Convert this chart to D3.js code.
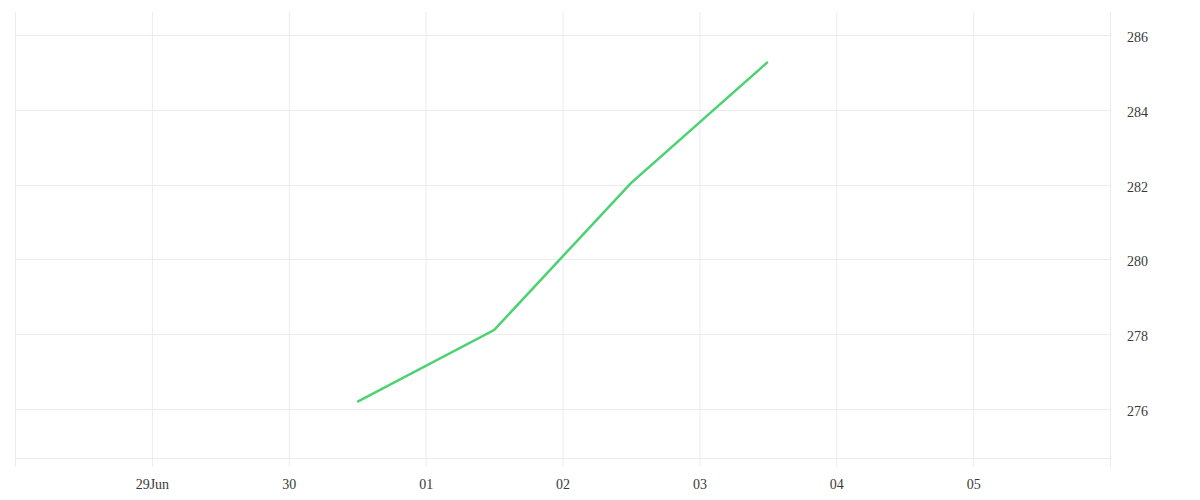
<!DOCTYPE html>
<html>
<head>
<meta charset="utf-8">
<script src="https://cdn.jsdelivr.net/npm/d3@7"></script>
<style>
  body { margin: 0; background: #fff; }
  text { font-family: "Liberation Serif", serif; font-size: 14px; fill: #3a3a3a; }
</style>
</head>
<body>
<div id="wrapper"></div>
<script>
// data
const dates = ["2024-06-30T12:00", "2024-07-01T12:00", "2024-07-02T12:00", "2024-07-03T12:00"];
const values = [276.19, 278.11, 282.04, 285.28];
const yTicks = [276, 278, 280, 282, 284, 286];
const xTickDays = ["2024-06-29", "2024-06-30", "2024-07-01", "2024-07-02", "2024-07-03", "2024-07-04", "2024-07-05"];
const xTickLabels = ["29Jun", "30", "01", "02", "03", "04", "05"];
const xDomain = ["2024-06-28", "2024-07-06"];
const yDomain = [274.69, 286.615];

function buildPlot() {
    const parseTime = d3.timeParse("%Y-%m-%dT%H:%M");
    const parseDay = d3.timeParse("%Y-%m-%d");
    const data = dates.map((d, i) => ({ date: parseTime(d), value: values[i] }));

    var dimension = {
        width: 1200,
        height: 500,
        margin: { top: 12, left: 15, bottom: 42, right: 90 }
    };
    dimension.boundedWidth = dimension.width - dimension.margin.left - dimension.margin.right;
    dimension.boundedHeight = dimension.height - dimension.margin.top - dimension.margin.bottom;

    const svg = d3.select("#wrapper").append("svg")
        .attr("width", dimension.width)
        .attr("height", dimension.height);
    const bounded = svg.append("g")
        .attr("transform", `translate(${dimension.margin.left}, ${dimension.margin.top})`);

    const xScaler = d3.scaleTime()
        .domain(xDomain.map(parseDay))
        .range([0, dimension.boundedWidth]);
    const yScaler = d3.scaleLinear()
        .domain(yDomain)
        .range([dimension.boundedHeight, 0]);

    // vertical grid, every day incl. the edges
    const gridDays = d3.timeDay.range(xScaler.domain()[0], d3.timeDay.offset(xScaler.domain()[1], 1));
    bounded.append("g")
        .selectAll("line")
        .data(gridDays)
        .join("line")
        .attr("x1", d => xScaler(d) + 0.5)
        .attr("x2", d => xScaler(d) + 0.5)
        .attr("y1", 0)
        .attr("y2", dimension.boundedHeight + 9)
        .attr("stroke", "#ececec")
        .attr("stroke-width", 1);

    // horizontal grid + bottom border
    bounded.append("g")
        .selectAll("line")
        .data(yTicks.concat([yDomain[0]]))
        .join("line")
        .attr("x1", 0)
        .attr("x2", dimension.boundedWidth)
        .attr("y1", d => Math.round(yScaler(d)) + 0.5)
        .attr("y2", d => Math.round(yScaler(d)) + 0.5)
        .attr("stroke", "#ececec")
        .attr("stroke-width", 1);

    // right axis labels
    const y_axis = d3.axisRight(yScaler)
        .tickValues(yTicks)
        .tickSize(0)
        .tickPadding(17)
        .tickFormat(d3.format("d"));
    bounded.append("g")
        .attr("transform", `translate(${dimension.boundedWidth}, 2)`)
        .call(y_axis)
        .call(g => g.select(".domain").remove())
        .selectAll("text").attr("font-size", null).attr("font-family", null);

    // bottom axis labels
    const x_axis = d3.axisBottom(xScaler)
        .tickValues(xTickDays.map(parseDay))
        .tickSize(0)
        .tickPadding(21)
        .tickFormat((d, i) => xTickLabels[i]);
    bounded.append("g")
        .attr("transform", `translate(0, ${dimension.boundedHeight})`)
        .call(x_axis)
        .call(g => g.select(".domain").remove())
        .selectAll("text").attr("font-size", null).attr("font-family", null);

    const lineGen = d3.line()
        .x(d => xScaler(d.date))
        .y(d => yScaler(d.value));

    bounded.append("path")
        .attr("d", lineGen(data))
        .attr("fill", "none")
        .attr("stroke", "#4cd173")
        .attr("stroke-width", 2.5);
}

buildPlot();
</script>
</body>
</html>
